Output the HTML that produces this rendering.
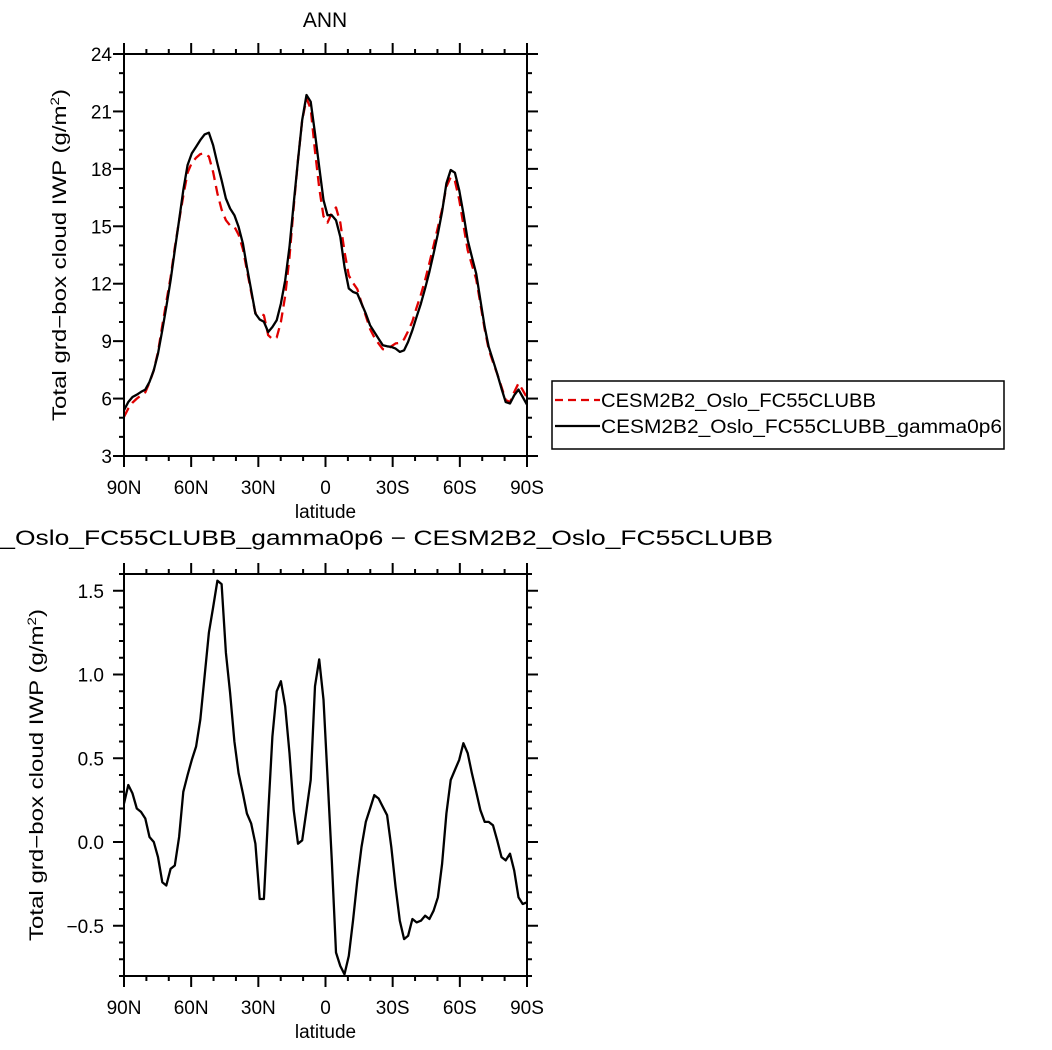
<!DOCTYPE html>
<html><head><meta charset="utf-8"><style>
body{margin:0;background:#fff;}
svg{display:block;font-family:"Liberation Sans",sans-serif;}
</style></head><body>
<svg id="c" width="1052" height="1050" viewBox="0 0 1052 1050"></svg>
<script>
const lats=[90,88.1,86.2,84.3,82.4,80.5,78.6,76.7,74.8,72.9,71.1,69.2,67.3,65.4,63.5,61.6,59.7,57.8,55.9,54.0,52.1,50.2,48.3,46.4,44.5,42.6,40.7,38.8,36.9,35.1,33.2,31.3,29.4,27.5,25.6,23.7,21.8,19.9,18.0,16.1,14.2,12.3,10.4,8.5,6.6,4.7,2.8,0.9,-0.9,-2.8,-4.7,-6.6,-8.5,-10.4,-12.3,-14.2,-16.1,-18.0,-19.9,-21.8,-23.7,-25.6,-27.5,-29.4,-31.3,-33.2,-35.1,-36.9,-38.8,-40.7,-42.6,-44.5,-46.4,-48.3,-50.2,-52.1,-54.0,-55.9,-57.8,-59.7,-61.6,-63.5,-65.4,-67.3,-69.2,-71.1,-72.9,-74.8,-76.7,-78.6,-80.5,-82.4,-84.3,-86.2,-88.1,-90];
const gammaSeries=[5.39,5.82,6.08,6.2,6.35,6.47,6.87,7.48,8.35,9.57,10.79,12.18,13.75,15.32,16.89,18.20,18.81,19.15,19.50,19.80,19.89,19.24,18.28,17.41,16.45,15.93,15.58,14.97,14.10,12.88,11.66,10.44,10.13,10.01,9.48,9.74,10.09,10.96,12.18,13.93,16.19,18.46,20.55,21.86,21.51,19.85,18.11,16.37,15.58,15.58,15.32,14.45,12.88,11.75,11.57,11.49,10.96,10.44,9.83,9.48,9.13,8.79,8.73,8.70,8.61,8.44,8.52,8.96,9.57,10.27,10.96,11.75,12.62,13.58,14.62,15.76,17.24,17.94,17.80,16.89,15.67,14.28,13.40,12.53,11.14,9.74,8.70,8.00,7.30,6.52,5.82,5.74,6.17,6.47,6.08,5.68];
const baseSeries=[5.05,5.48,5.79,6.0,6.17,6.33,6.84,7.48,8.44,9.81,11.05,12.34,13.89,15.29,16.59,17.80,18.32,18.58,18.77,18.81,18.64,17.84,16.72,15.87,15.32,15.04,14.98,14.56,13.81,12.71,11.55,10.45,10.47,10.35,9.31,9.11,9.19,10.0,11.37,13.40,16.0,18.47,20.54,21.67,21.14,18.92,17.02,15.52,15.19,15.69,15.98,15.19,13.67,12.43,12.04,11.72,10.99,10.32,9.63,9.20,8.87,8.58,8.57,8.73,8.88,8.91,9.10,9.52,10.03,10.75,11.43,12.19,13.08,13.99,14.95,15.89,17.07,17.57,17.37,16.40,15.08,13.75,12.99,12.23,10.95,9.62,8.58,7.90,7.29,6.61,5.93,5.81,6.34,6.80,6.45,6.04];
const diffSeries=[0.23,0.34,0.29,0.20,0.18,0.14,0.03,0.0,-0.09,-0.24,-0.26,-0.16,-0.14,0.03,0.30,0.40,0.49,0.57,0.73,0.99,1.25,1.40,1.56,1.54,1.13,0.89,0.60,0.41,0.29,0.17,0.11,-0.01,-0.34,-0.34,0.17,0.63,0.90,0.96,0.81,0.53,0.19,-0.01,0.01,0.19,0.37,0.93,1.09,0.85,0.39,-0.11,-0.66,-0.74,-0.79,-0.68,-0.47,-0.23,-0.03,0.12,0.20,0.28,0.26,0.21,0.16,-0.03,-0.27,-0.47,-0.58,-0.56,-0.46,-0.48,-0.47,-0.44,-0.46,-0.41,-0.33,-0.13,0.17,0.37,0.43,0.49,0.59,0.53,0.41,0.30,0.19,0.12,0.12,0.10,0.01,-0.09,-0.11,-0.07,-0.17,-0.33,-0.37,-0.36];
const xTickVals=[90,60,30,0,-30,-60,-90];
const xTickLabels=["90N","60N","30N","0","30S","60S","90S"];
const topYTicks=[3,6,9,12,15,18,21,24];
const botYTicks=[-0.5,0.0,0.5,1.0,1.5];
const botYLabels=["\u22120.5","0.0","0.5","1.0","1.5"];

const NS="http://www.w3.org/2000/svg";
const svg=document.getElementById('c');
function mk(t,a,p){const e=document.createElementNS(NS,t);for(const k in a)e.setAttribute(k,a[k]);(p||svg).appendChild(e);return e;}

function panel(name,L,R,T,B,ymin,ymax,yTicks,yLabels,minorStep,series,labOff,titleX){
  const g=mk('g',{});
  
  
  const xs=v=>L+(90-v)/180*(R-L);
  const ys=v=>B-(v-ymin)/(ymax-ymin)*(B-T);
  for(let v=90;v>=-90;v-=10){
    const major=(v%30===0);const len=major?11:5;const x=xs(v);
    mk('line',{x1:x,x2:x,y1:B,y2:B+len,stroke:'#000','stroke-width':2},g);
    mk('line',{x1:x,x2:x,y1:T,y2:T-len,stroke:'#000','stroke-width':2},g);
  }
  const nMinor=Math.round((ymax-ymin)/minorStep);
  for(let i=0;i<=nMinor;i++){
    const v=ymin+i*minorStep;const y=ys(v);
    const isMajor=yTicks.some(t=>Math.abs(t-v)<1e-6);const len=isMajor?11:5;
    mk('line',{x1:L,x2:L-len,y1:y,y2:y,stroke:'#000','stroke-width':2},g);
    mk('line',{x1:R,x2:R+len,y1:y,y2:y,stroke:'#000','stroke-width':2},g);
  }
  yTicks.forEach((v,i)=>{
    const t=mk('text',{x:L-labOff,y:ys(v)+7,'text-anchor':'end','font-size':19},g);
    t.textContent=yLabels[i];
    
    
  });
  xTickVals.forEach((v,i)=>{
    const t=mk('text',{x:xs(v),y:B+38,'text-anchor':'middle','font-size':19},g);
    t.textContent=xTickLabels[i];
    
    
  });
  const xt=mk('text',{x:(L+R)/2,y:B+62,'text-anchor':'middle','font-size':19},g);
  xt.textContent='latitude';
  
  
  const cy=(T+B)/2,cx=titleX;
  const yt=mk('text',{x:cx,y:cy,'text-anchor':'middle','font-size':19,transform:`rotate(-90 ${cx} ${cy})`,textLength:332,lengthAdjust:'spacingAndGlyphs'},g);
  yt.innerHTML='Total grd\u2212box cloud IWP (g/m<tspan dy="-7" font-size="12">2</tspan><tspan dy="7">)</tspan>';
  
  
  series.forEach(s=>{
    const d=s.vals.map((v,i)=>(i?'L':'M')+xs(lats[i]).toFixed(1)+','+ys(v).toFixed(1)).join('');
    const p=mk('path',{d:d,fill:'none',stroke:s.color,'stroke-width':2.3,'stroke-dasharray':s.dash||'none','stroke-linejoin':'round'},g);
    
    
  });
  const fr=mk('rect',{x:L,y:T,width:R-L,height:B-T,fill:'none',stroke:'#000','stroke-width':2},g);
  
  
}

const title=mk('text',{x:325,y:27,'text-anchor':'middle','font-size':21});
title.textContent='ANN';



panel('top-panel',124,527,54,456,3,24,topYTicks,topYTicks.map(String),1,[
  {vals:baseSeries,color:'#e00000',dash:'10 6',name:'line-cesm2b2-oslo-fc55clubb'},
  {vals:gammaSeries,color:'#000',name:'line-gamma0p6'}
],12,66);

const t2=mk('text',{x:325,y:545,'text-anchor':'middle','font-size':21,textLength:896,lengthAdjust:'spacingAndGlyphs'});
t2.textContent='CESM2B2_Oslo_FC55CLUBB_gamma0p6 \u2212 CESM2B2_Oslo_FC55CLUBB';



panel('bottom-panel',124,527,574,976,-0.8,1.6,botYTicks,botYLabels,0.1,[
  {vals:diffSeries,color:'#000',name:'line-difference'}
],20,43);

const lg=mk('g',{});


mk('rect',{x:552,y:381,width:452,height:68,fill:'#fff',stroke:'#000','stroke-width':1.5},lg);
const e1=mk('g',{},lg);


mk('line',{x1:555,x2:600,y1:400,y2:400,stroke:'#e00000','stroke-width':2.3,'stroke-dasharray':'8 5'},e1);
const l1=mk('text',{x:601,y:407,'font-size':19,textLength:275,lengthAdjust:'spacingAndGlyphs'},e1);
l1.textContent='CESM2B2_Oslo_FC55CLUBB';
const e2=mk('g',{},lg);


mk('line',{x1:555,x2:600,y1:426,y2:426,stroke:'#000','stroke-width':2.3},e2);
const l2=mk('text',{x:601,y:433,'font-size':19,textLength:401,lengthAdjust:'spacingAndGlyphs'},e2);
l2.textContent='CESM2B2_Oslo_FC55CLUBB_gamma0p6';
</script>
</body></html>
